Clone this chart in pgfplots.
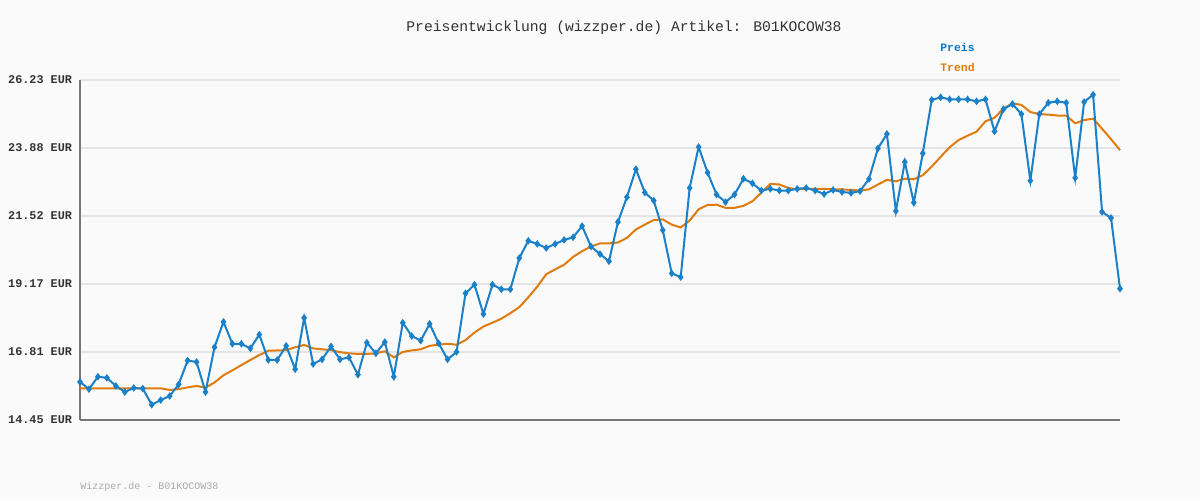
\documentclass[border=0pt]{standalone}
\usepackage{pgfplots}
\usepackage{pgfplotstable}
\pgfplotsset{compat=1.18}
\usepackage{fontspec}
\setmainfont{Liberation Mono}
\setmonofont{Liberation Mono}
\definecolor{bg}{HTML}{FAFAFA}
\definecolor{preis}{HTML}{1A80C8}
\definecolor{preislab}{HTML}{0A78C8}
\definecolor{trend}{HTML}{E07B10}
\definecolor{gridc}{HTML}{E4E4E4}
\definecolor{axc}{HTML}{777777}
\definecolor{labc}{HTML}{333333}
\definecolor{footc}{HTML}{AAAAAA}
\pgfplotstableread{
i price trend
1 15.77 15.55
2 15.52 15.55
3 15.95 15.55
4 15.91 15.55
5 15.63 15.55
6 15.42 15.55
7 15.56 15.55
8 15.54 15.55
9 14.98 15.55
10 15.14 15.55
11 15.28 15.49
12 15.68 15.52
13 16.51 15.58
14 16.46 15.63
15 15.42 15.57
16 16.97 15.75
17 17.85 16.00
18 17.09 16.17
19 17.09 16.35
20 16.93 16.53
21 17.41 16.70
22 16.53 16.85
23 16.53 16.86
24 17.02 16.87
25 16.21 16.97
26 17.99 17.05
27 16.39 16.93
28 16.55 16.90
29 17.00 16.87
30 16.55 16.80
31 16.62 16.76
32 16.02 16.74
33 17.13 16.74
34 16.76 16.76
35 17.15 16.83
36 15.95 16.62
37 17.82 16.81
38 17.36 16.86
39 17.20 16.90
40 17.78 17.02
41 17.11 17.06
42 16.55 17.09
43 16.81 17.06
44 18.84 17.22
45 19.14 17.48
46 18.12 17.69
47 19.14 17.82
48 18.98 17.96
49 18.98 18.15
50 20.06 18.36
51 20.66 18.70
52 20.55 19.07
53 20.41 19.50
54 20.55 19.67
55 20.69 19.83
56 20.78 20.10
57 21.17 20.30
58 20.46 20.46
59 20.20 20.57
60 19.95 20.57
61 21.31 20.60
62 22.17 20.76
63 23.14 21.05
64 22.33 21.22
65 22.05 21.38
66 21.03 21.40
67 19.53 21.22
68 19.40 21.12
69 22.49 21.36
70 23.91 21.75
71 23.02 21.90
72 22.26 21.91
73 22.00 21.80
74 22.26 21.80
75 22.81 21.87
76 22.65 22.03
77 22.40 22.33
78 22.46 22.63
79 22.40 22.61
80 22.40 22.49
81 22.46 22.44
82 22.49 22.46
83 22.40 22.46
84 22.28 22.46
85 22.42 22.44
86 22.35 22.44
87 22.32 22.42
88 22.38 22.40
89 22.80 22.44
90 23.86 22.61
91 24.36 22.77
92 21.69 22.72
93 23.39 22.81
94 21.98 22.79
95 23.69 22.93
96 25.54 23.23
97 25.63 23.57
98 25.56 23.90
99 25.56 24.15
100 25.56 24.30
101 25.49 24.44
102 25.56 24.80
103 24.45 24.92
104 25.22 25.24
105 25.40 25.42
106 25.05 25.37
107 22.74 25.12
108 25.05 25.05
109 25.44 25.03
110 25.49 25.00
111 25.44 25.00
112 22.84 24.73
113 25.47 24.84
114 25.72 24.89
115 21.66 24.54
116 21.45 24.18
117 19.00 23.80
}\datatable
\begin{document}
\begin{tikzpicture}
\fill[bg] (0,0) rectangle (600pt,250pt);
\path[use as bounding box] (0,0) rectangle (600pt,250pt);
\begin{axis}[
  at={(40pt,40pt)}, anchor=south west,
  scale only axis, width=520pt, height=170pt,
  xmin=1, xmax=117, ymin=14.45, ymax=26.23,
  axis x line=bottom, axis y line=left,
  axis line style={-, axc, line width=1pt},
  xtick=\empty,
  ytick={14.45,16.81,19.17,21.52,23.88,26.23},
  yticklabels={14.45 EUR,16.81 EUR,19.17 EUR,21.52 EUR,23.88 EUR,26.23 EUR},
  yticklabel style={font=\fontsize{5.9pt}{6pt}\selectfont\bfseries, text=labc, xshift=-0.5pt},
  major tick length=0pt,
  ymajorgrids, grid style={gridc, line width=1pt},
  clip=false,
]
\addplot[trend, line width=1pt] table[x=i, y=trend] {\datatable};
\addplot[preis, line width=1pt, mark=diamond*, mark size=1.1pt, mark options={preis}] table[x=i, y=price] {\datatable};
\end{axis}
\node[font=\fontsize{7.35pt}{8pt}\selectfont, text=labc] at (312pt,236pt) {Preisentwicklung (wizzper.de) Artikel: B01KOCOW38};
\node[anchor=west, inner sep=0, font=\fontsize{5.7pt}{6pt}\selectfont\bfseries, text=preislab] at (470pt,226.5pt) {Preis};
\node[anchor=west, inner sep=0, font=\fontsize{5.7pt}{6pt}\selectfont\bfseries, text=trend] at (470pt,216.5pt) {Trend};
\node[anchor=west, inner sep=0, font=\fontsize{5pt}{6pt}\selectfont, text=footc] at (40pt,6.5pt) {Wizzper.de - B01KOCOW38};
\end{tikzpicture}
\end{document}
